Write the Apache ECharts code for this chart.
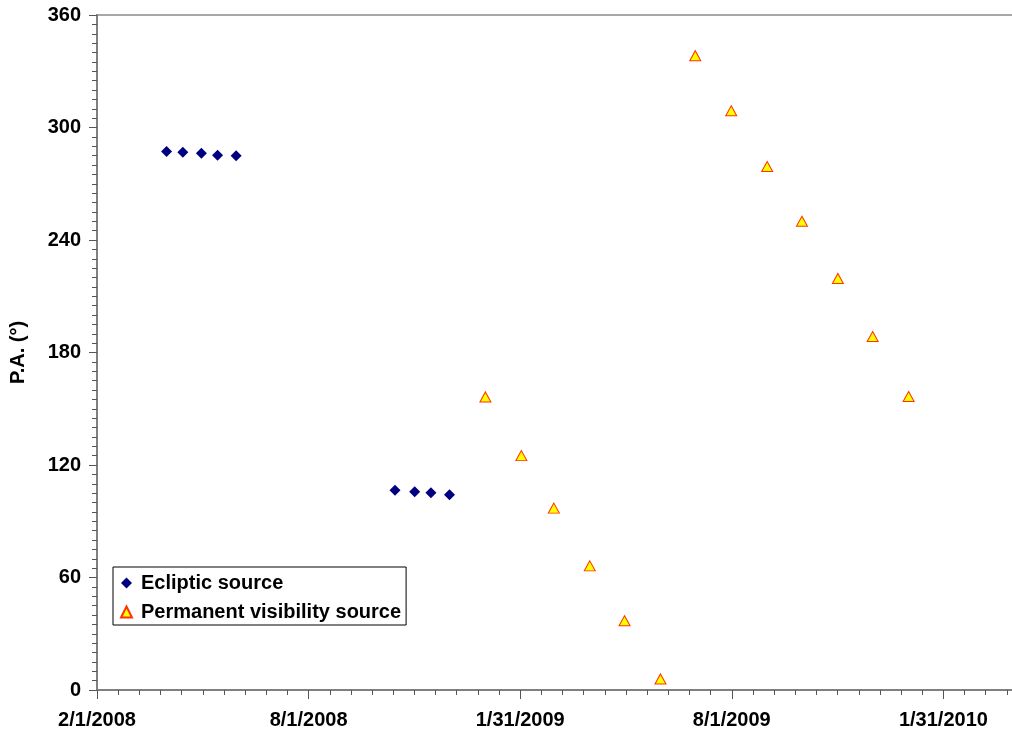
<!DOCTYPE html>
<html>
<head>
<meta charset="utf-8">
<script src="https://cdn.jsdelivr.net/npm/echarts@6/dist/echarts.min.js"></script>
<style>
html,body{margin:0;padding:0;background:#fff;overflow:hidden;width:1012px;height:735px;}
#chart{width:1158px;height:735px;}
</style>
</head>
<body>
<div id="chart"></div>
<script>
// ---- Data ----
const seriesNames = ['Ecliptic source', 'Permanent visibility source'];
const eclipticDates = ['4/1/2008','4/15/2008','5/1/2008','5/15/2008','5/31/2008',
                       '10/15/2008','11/1/2008','11/15/2008','12/1/2008'];
const eclipticPA = [287.2, 286.8, 286.3, 285.2, 284.9, 106.5, 105.8, 105.2, 104.2];
const permanentDates = ['1/1/2009','2/1/2009','3/1/2009','4/1/2009','5/1/2009','6/1/2009',
                        '7/1/2009','8/1/2009','9/1/2009','10/1/2009','11/1/2009','12/1/2009','1/1/2010'];
const permanentPA = [156.3, 125.0, 97.0, 66.2, 36.9, 5.9, 338.3, 308.9, 279.2, 250.0, 219.5, 188.5, 156.5];
const xTickDays = 182.5;          // major unit (days)
const axisStartDate = '2/1/2008';
const yTicks = [0, 60, 120, 180, 240, 300, 360];

// ---- helpers ----
function parseMDY(s){ const [m,d,y] = s.split('/').map(Number); return Date.UTC(y, m-1, d); }
const origin = parseMDY(axisStartDate);
function dayOf(s){ return Math.round((parseMDY(s) - origin) / 86400000); }
function fmtDay(v){
  const dt = new Date(origin + Math.floor(v + 1e-6) * 86400000);
  return (dt.getUTCMonth()+1) + '/' + dt.getUTCDate() + '/' + dt.getUTCFullYear();
}

const eclipticData = eclipticDates.map((d,i)=>[dayOf(d), eclipticPA[i]]);
const permanentData = permanentDates.map((d,i)=>[dayOf(d), permanentPA[i]]);

const FONT = "'Liberation Sans', Arial, sans-serif";
const chart = echarts.init(document.getElementById('chart'), null, {renderer:'canvas'});
chart.setOption({
  animation: false,
  backgroundColor: '#ffffff',
  grid: {
    left: 96, top: 15, bottom: 45, right: 0,
    show: true, borderColor: '#8a8a8a', borderWidth: 1.5, backgroundColor: 'transparent'
  },
  legend: {
    orient: 'vertical',
    left: 113, top: 567,
    padding: [6, 5, 3, 7],
    itemGap: 9,
    itemWidth: 11, itemHeight: 11,
    borderColor: '#000', borderWidth: 1,
    backgroundColor: '#fff',
    textStyle: { fontFamily: FONT, fontWeight: 'bold', fontSize: 20, color: '#000', lineHeight: 20, padding: [0,0,0,4] },
    data: seriesNames
  },
  xAxis: {
    type: 'value',
    min: 0, max: xTickDays * 5, interval: xTickDays,
    axisLine: { show: true, lineStyle: { color: '#808080', width: 2 } },
    axisTick: { show: true, length: 9, lineStyle: { color: '#555', width: 1 } },
    minorTick: { show: true, splitNumber: 10, length: 5, lineStyle: { color: '#555', width: 1 } },
    splitLine: { show: false },
    axisLabel: {
      margin: 20,
      fontFamily: FONT, fontWeight: 'bold', fontSize: 20, color: '#000',
      formatter: v => v > 800 ? '' : fmtDay(v)
    }
  },
  yAxis: {
    type: 'value',
    min: yTicks[0], max: yTicks[yTicks.length-1], interval: 60,
    name: 'P.A. (°)',
    nameLocation: 'middle', nameRotate: 90, nameGap: 69,
    nameTextStyle: { fontFamily: FONT, fontWeight: 'bold', fontSize: 20, color: '#000' },
    axisLine: { show: true, lineStyle: { color: '#808080', width: 2 } },
    axisTick: { show: true, length: 8, lineStyle: { color: '#555', width: 1 } },
    minorTick: { show: true, splitNumber: 12, length: 5, lineStyle: { color: '#555', width: 1 } },
    splitLine: { show: false },
    axisLabel: {
      margin: 16,
      fontFamily: FONT, fontWeight: 'bold', fontSize: 20, color: '#000'
    }
  },
  series: [
    {
      name: seriesNames[0], type: 'scatter',
      symbol: 'diamond', symbolSize: 11,
      itemStyle: { color: '#000080', opacity: 1 },
      data: eclipticData
    },
    {
      name: seriesNames[1], type: 'scatter',
      symbol: 'triangle', symbolSize: [11, 10],
      itemStyle: { color: '#FFFF00', borderColor: '#FF3300', borderWidth: 1, opacity: 1 },
      data: permanentData
    }
  ]
});
</script>
</body>
</html>
